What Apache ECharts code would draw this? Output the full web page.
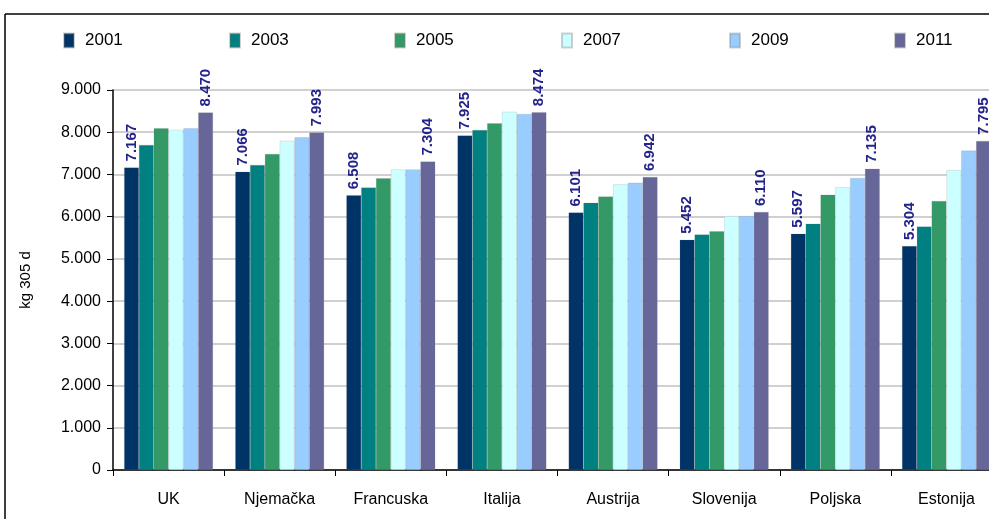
<!DOCTYPE html>
<html>
<head>
<meta charset="utf-8">
<script src="https://cdn.jsdelivr.net/npm/echarts@6/dist/echarts.min.js"></script>
<style>
  html, body { margin: 0; padding: 0; background: #fff; overflow: hidden; }
  #chart { width: 1002px; height: 519px; }
</style>
</head>
<body>
<div id="chart"></div>
<script>
// podaci
const countries = ['UK', 'Njemačka', 'Francuska', 'Italija', 'Austrija', 'Slovenija', 'Poljska', 'Estonija']
const years = ['2001', '2003', '2005', '2007', '2009', '2011']
const v2001 = [7167, 7066, 6508, 7925, 6101, 5452, 5597, 5304]
const v2003 = [7700, 7225, 6690, 8055, 6330, 5580, 5835, 5765]
const v2005 = [8095, 7485, 6910, 8210, 6480, 5655, 6520, 6370]
const v2007 = [8055, 7800, 7120, 8485, 6765, 6015, 6695, 7105]
const v2009 = [8095, 7880, 7120, 8430, 6805, 6015, 6915, 7565]
const v2011 = [8470, 7993, 7304, 8474, 6942, 6110, 7135, 7795]
const yTicks = [0, 1000, 2000, 3000, 4000, 5000, 6000, 7000, 8000, 9000]

const colors = ['#003366', '#008080', '#339966', '#ccffff', '#99ccff', '#666699']
const values = [v2001, v2003, v2005, v2007, v2009, v2011]
const labelled = [true, false, false, false, false, true]
const legendLeft = [58, 224, 389, 556, 724, 889]
const font = 'Liberation Sans'

const fmt = v => {
  const s = String(Math.round(v))
  return s.length > 3 ? s.slice(0, s.length - 3) + '.' + s.slice(-3) : s
}

// sirina grafikona je malo veca od prozora, zadnji stupac je odrezan kao na slici
const chart = echarts.init(document.getElementById('chart'))

const series = years.map((y, i) => ({
  name: y,
  type: 'bar',
  data: values[i],
  barGap: '0%',
  barCategoryGap: '20%',
  itemStyle: { color: colors[i], borderColor: 'rgba(120,120,120,0.35)', borderWidth: 0.5 },
  label: {
    show: labelled[i],
    position: 'insideBottom',
    rotate: 90,
    align: 'left',
    verticalAlign: 'middle',
    distance: 0,
    formatter: p => fmt(p.value),
    color: '#23238c',
    fontFamily: font,
    fontWeight: 'bold',
    fontSize: 15
  },
  labelLayout: params => ({
    x: params.rect.x + params.rect.width / 2,
    y: params.rect.y - 6
  })
}))

// svaka legenda zasebno da pozicije odgovaraju
const legends = years.map((y, i) => ({
  top: 27,
  left: legendLeft[i],
  itemWidth: 10,
  itemHeight: 14,
  icon: 'rect',
  data: [y],
  textStyle: { fontSize: 17, color: '#000', fontFamily: font, padding: [0, 0, 0, 6] }
}))

chart.setOption({
  animation: false,
  textStyle: { fontFamily: font },
  legend: legends,
  grid: { left: 113, top: 90, bottom: 49, right: 0, containLabel: false },
  xAxis: {
    type: 'category',
    data: countries,
    axisLine: { lineStyle: { color: '#000', width: 1.5 } },
    axisTick: { show: true, length: 6, lineStyle: { color: '#000' } },
    axisLabel: { margin: 22, fontSize: 16, color: '#000', fontFamily: font }
  },
  yAxis: {
    type: 'value',
    min: 0,
    max: 9000,
    interval: 1000,
    name: 'kg 305 d',
    nameLocation: 'middle',
    nameGap: 80,
    nameRotate: 90,
    nameTextStyle: { fontSize: 15, color: '#000', fontFamily: font },
    axisLine: { show: true, lineStyle: { color: '#000', width: 1.5 } },
    axisTick: { show: true, inside: false, length: 6, lineStyle: { color: '#000' } },
    axisLabel: {
      margin: 12,
      fontSize: 16,
      color: '#000',
      fontFamily: font,
      formatter: v => fmt(v)
    },
    splitLine: { lineStyle: { color: '#c0c0c0', width: 1.5 } }
  },
  graphic: [
    { type: 'line', shape: { x1: 5, y1: 14, x2: 1002, y2: 14 }, style: { stroke: '#000', lineWidth: 1.5 } },
    { type: 'line', shape: { x1: 5, y1: 14, x2: 5, y2: 519 }, style: { stroke: '#000', lineWidth: 1.5 } }
  ],
  series: series
})
</script>
</body>
</html>
